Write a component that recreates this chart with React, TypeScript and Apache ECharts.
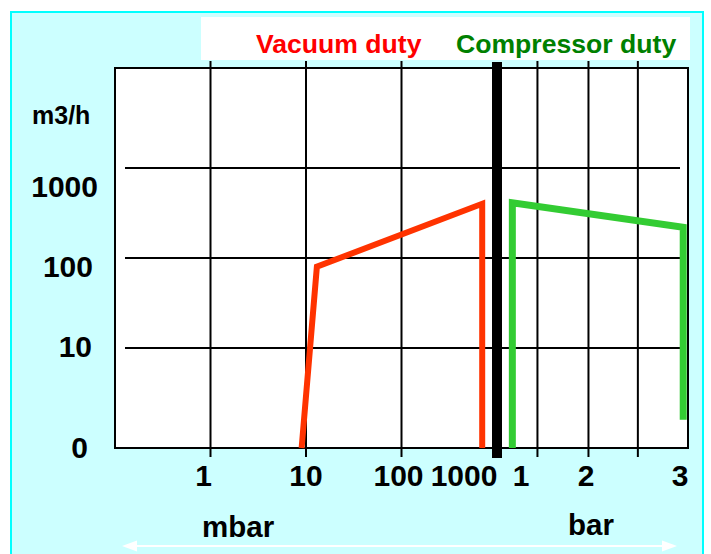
import React, { useEffect, useRef } from "react";
import * as echarts from "echarts";

// ---- data ----
const mbarTicks = [1, 10, 100, 1000]; // mbar tick labels
const barTicks = [1, 2, 3]; // bar tick labels
const flowTicks = [0, 10, 100, 1000]; // m3/h tick labels
const barExtraGrid = [1.24, 1.87, 2.48]; // unlabeled grid lines in the bar region
const separatorMbar = 1000;

const vacuumMbar = [9, 13, 700, 700];
const vacuumFlow = [0, 80, 400, 0];
const compressorBar = [0.93, 0.93, 3.04, 3.04];
const compressorFlow = [0, 410, 220, 1.6];

// ---- scale helpers ----
const X_MIN = 0;
const X_MAX = 6;
const Y_MIN = -1 / 9;
const Y_MAX = 37 / 9;
const mbarPos = (v: number) => 1 + Math.log10(v);
const barPos = (b: number) => 4.22 + (b - 1) * 0.848;
const yPos = (v: number) => (v > 0 ? Math.log10(v) : Y_MIN);

const FONT = '"Liberation Sans", Arial, sans-serif';

// label nudges (style only)
const xLabelShift = [-7, 0, -3, -33, 3, -13, 0];
const yLabelShiftY = [-1, -2, 8, 18];
const yLabelPadRight = [10, 6, 5, 0];

export default function App() {
  const ref = useRef<HTMLDivElement>(null);

  useEffect(() => {
    if (!ref.current) return;
    const chart = echarts.init(ref.current, undefined, { renderer: "svg" });

    const xLabelVals = [...mbarTicks.map(mbarPos), ...barTicks.map(barPos)];
    const xLabelTexts = [...mbarTicks.map(String), ...barTicks.map(String)];
    const yLabelVals = flowTicks.map(yPos);
    const yLabelTexts = flowTicks.map(String);

    const xRich: any = {};
    xLabelShift.forEach((s, i) => {
      xRich["x" + i] = {
        fontSize: 30,
        fontWeight: "bold",
        fontFamily: FONT,
        color: "#000",
        padding: s < 0 ? [0, -2 * s, 0, 0] : [0, 0, 0, 2 * s],
      };
    });
    const yRich: any = {};
    yLabelShiftY.forEach((s, i) => {
      yRich["y" + i] = {
        fontSize: 30,
        fontWeight: "bold",
        fontFamily: FONT,
        color: "#000",
        padding: [s > 0 ? 2 * s : 0, yLabelPadRight[i], s < 0 ? -2 * s : 0, 0],
      };
    });

    const findIdx = (vals: number[], v: number) => {
      let best = 0;
      vals.forEach((c, i) => {
        if (Math.abs(c - v) < Math.abs(vals[best] - v)) best = i;
      });
      return best;
    };

    const gridData: number[][] = [
      ...mbarTicks.slice(0, 3).map((m) => [mbarPos(m), 0]),
      ...barExtraGrid.map((b) => [barPos(b), 0]),
      ...flowTicks.slice(1).map((f) => [yPos(f), 1]),
      [mbarPos(separatorMbar), 2],
    ];

    const textEl = (text: string, x: number, y: number, size: number, fill: string) => ({
      type: "text",
      z: 6,
      x,
      y,
      style: {
        text,
        fill,
        font: `bold ${size}px ${FONT}`,
        align: "left",
        verticalAlign: "middle",
        textAlign: "left",
        textVerticalAlign: "middle",
      },
    });

    const option: any = {
      animation: false,
      backgroundColor: "#ffffff",
      grid: {
        left: 115,
        top: 68,
        width: 573,
        height: 380,
        show: true,
        backgroundColor: "#ffffff",
        borderColor: "#000",
        borderWidth: 2,
      },
      xAxis: {
        type: "value",
        min: X_MIN,
        max: X_MAX,
        axisLine: { show: false },
        axisTick: { show: false },
        splitLine: { show: false },
        axisLabel: {
          customValues: xLabelVals,
          margin: 12,
          fontSize: 30,
          fontWeight: "bold",
          fontFamily: FONT,
          color: "#000",
          rich: xRich,
          formatter: (v: number) => {
            const i = findIdx(xLabelVals, v);
            return `{x${i}|${xLabelTexts[i]}}`;
          },
        },
      },
      yAxis: {
        type: "value",
        min: Y_MIN,
        max: Y_MAX,
        axisLine: { show: false },
        axisTick: { show: false },
        splitLine: { show: false },
        axisLabel: {
          customValues: yLabelVals,
          margin: 17,
          fontSize: 30,
          fontWeight: "bold",
          fontFamily: FONT,
          color: "#000",
          rich: yRich,
          formatter: (v: number) => {
            const i = findIdx(yLabelVals, v);
            return `{y${i}|${yLabelTexts[i]}}`;
          },
        },
      },
      series: [
        {
          type: "custom",
          clip: false,
          silent: true,
          z: 1,
          data: gridData,
          renderItem: (params: any, api: any) => {
            const cs = params.coordSys;
            const v = api.value(0);
            const kind = api.value(1);
            if (kind === 0) {
              const x = api.coord([v, Y_MIN])[0];
              return {
                type: "line",
                shape: { x1: x, y1: cs.y - 7, x2: x, y2: cs.y + cs.height + 9 },
                style: { stroke: "#000", lineWidth: 2 },
              };
            }
            if (kind === 1) {
              const y = api.coord([X_MIN, v])[1];
              return {
                type: "line",
                shape: { x1: cs.x + 10, y1: y, x2: cs.x + cs.width - 8, y2: y },
                style: { stroke: "#000", lineWidth: 2 },
              };
            }
            const x = api.coord([v, Y_MIN])[0];
            return {
              type: "rect",
              shape: { x: x - 5, y: cs.y - 6, width: 10, height: cs.height + 16 },
              style: { fill: "#000" },
            };
          },
        },
        {
          name: "Vacuum duty",
          type: "line",
          z: 3,
          clip: false,
          symbol: "none",
          data: vacuumMbar.map((m, i) => [mbarPos(m), yPos(vacuumFlow[i])]),
          lineStyle: { color: "#FF3300", width: 6, join: "miter", cap: "butt" },
        },
        {
          name: "Compressor duty",
          type: "line",
          z: 3,
          clip: false,
          symbol: "none",
          data: compressorBar.map((b, i) => [barPos(b), yPos(compressorFlow[i])]),
          lineStyle: { color: "#33CC33", width: 7, join: "miter", cap: "butt" },
        },
      ],
      graphic: [
        {
          type: "rect",
          z: -10,
          silent: true,
          shape: { x: 11, y: 12, width: 692, height: 560 },
          style: { fill: "#CCFFFF", stroke: "#00FFFF", lineWidth: 2 },
        },
        {
          type: "rect",
          z: 5,
          silent: true,
          shape: { x: 201, y: 17, width: 489, height: 43 },
          style: { fill: "#ffffff" },
        },
        textEl("Vacuum duty", 256, 44, 26.6, "#FF0000"),
        textEl("Compressor duty", 456, 44, 26.6, "#008000"),
        textEl("m3/h", 32, 115, 25, "#000"),
        textEl("mbar", 202, 526, 29.5, "#000"),
        textEl("bar", 568, 524, 29.5, "#000"),
        {
          type: "line",
          z: 6,
          shape: { x1: 130, y1: 546, x2: 670, y2: 546 },
          style: { stroke: "#ffffff", lineWidth: 2 },
        },
        {
          type: "polygon",
          z: 6,
          shape: { points: [[122, 546], [137, 540.5], [137, 551.5]] },
          style: { fill: "#ffffff" },
        },
        {
          type: "polygon",
          z: 6,
          shape: { points: [[677, 546], [662, 540.5], [662, 551.5]] },
          style: { fill: "#ffffff" },
        },
      ],
    };

    chart.setOption(option);
    return () => chart.dispose();
  }, []);

  return (
    <div
      ref={ref}
      style={{ position: "fixed", left: 0, top: 0, width: 711, height: 554 }}
    />
  );
}
